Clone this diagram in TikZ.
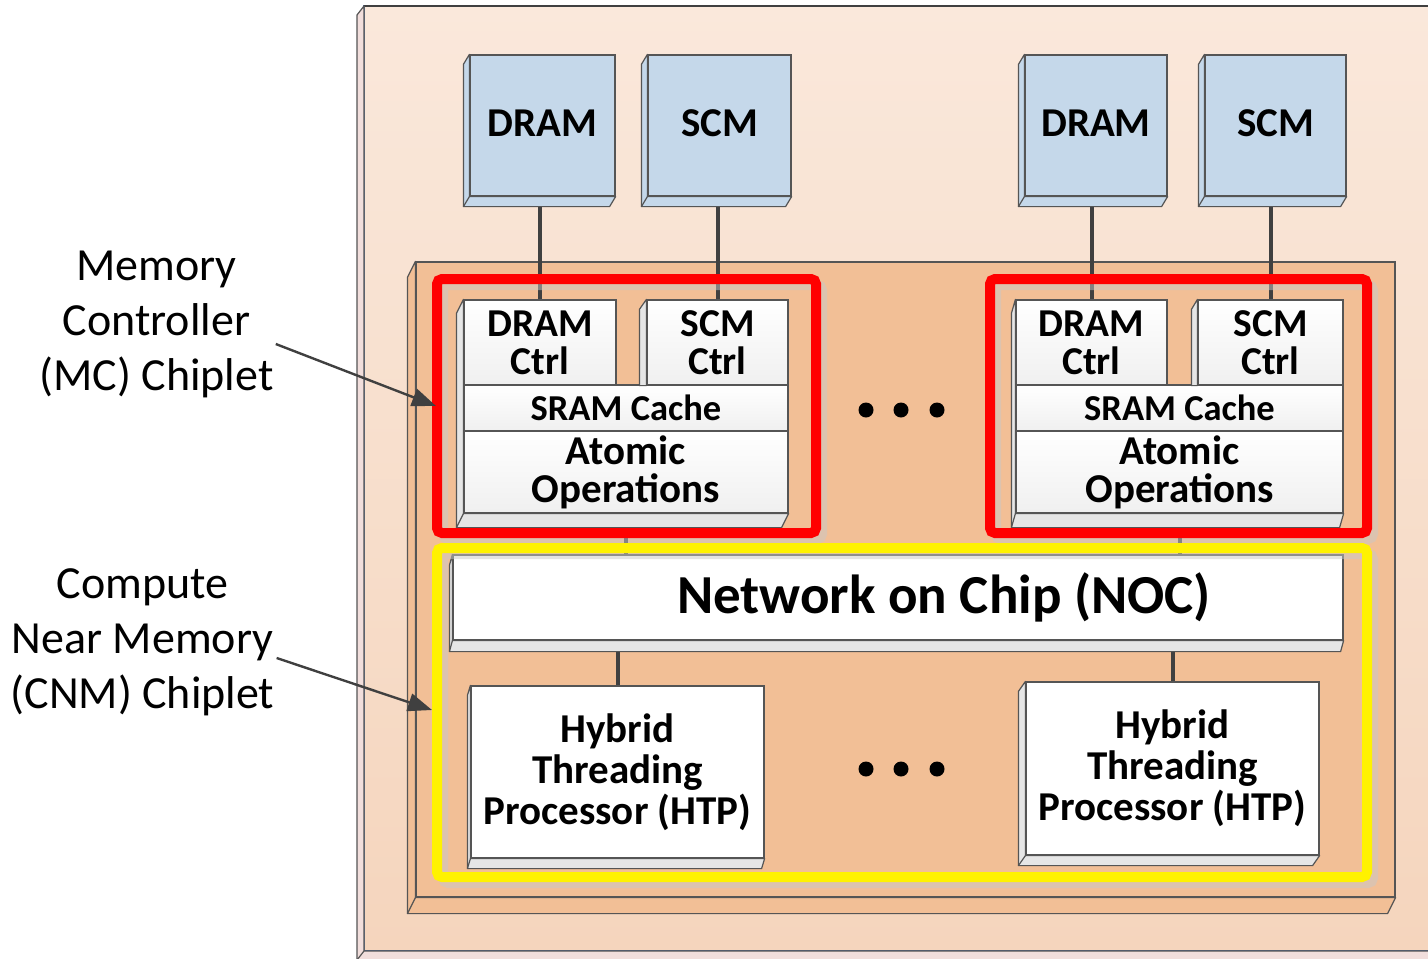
\documentclass[tikz,border=0pt]{standalone}
\usepackage{fontspec}
\setmainfont{Carlito}
\usetikzlibrary{calc,arrows.meta}

\definecolor{boardtop}{HTML}{FAE8DB}
\definecolor{boardbot}{HTML}{F5D5BD}
\definecolor{boardside}{HTML}{F1DEDC}
\definecolor{boardline}{HTML}{4E6A97}
\definecolor{chipfill}{HTML}{F2BF96}
\definecolor{memfill}{HTML}{C5D8EA}
\definecolor{edge}{HTML}{555555}
\definecolor{wire}{HTML}{404040}
\definecolor{bevside}{HTML}{E6E6E6}
\definecolor{shadegray}{HTML}{C8C8C8}

% side and bottom faces of a 3D box: corners nw, se, depth dx, dy
\newcommand{\bevel}[5][bevside]{%
  \filldraw[fill=#1,draw=edge,line width=1.2pt,line join=round]
    (#2) -- ++(-#4,#5) -- ($(#2 |- #3)+(-#4,#5)$) -- ($(#3)+(-#4,#5)$)
    -- (#3) -- (#2 |- #3) -- cycle;
  \draw[edge,line width=1.2pt] (#2 |- #3) -- ++(-#4,#5);}
\newcommand{\sidestrip}[3]{%
  \filldraw[fill=bevside,draw=edge,line width=1.2pt,line join=round]
    (#1.north west) -- ++(-#2,#3) -- ($(#1.south west)+(-#2,0)$) -- (#1.south west) -- cycle;}

\begin{document}
\begin{tikzpicture}[x=1pt,y=-1pt,
  box/.style={draw=edge,line width=1.2pt,inner sep=0pt,align=center},
  mem/.style={box,fill=memfill,text depth=5pt,font=\fontsize{41}{41}\selectfont\bfseries},
  cell/.style={box,top color=white,bottom color=gray!12,font=\fontsize{39.5}{38}\selectfont\bfseries},
  proc/.style={box,fill=white,font=\fontsize{41}{41}\selectfont\bfseries},
  lbl/.style={align=center,inner sep=0pt,font=\fontsize{46}{55}\selectfont},
  link/.style={wire,line width=4pt},
  frame/.style={line width=10pt,rounded corners=5pt},
  pointer/.style={wire,line width=2.4pt,-{Triangle[length=24pt,width=18pt]}}]
  \useasboundingbox (0,0) rectangle (1428,959);
  \clip (0,0) rectangle (1428,959);

  \coordinate (bnw) at (364,6);
  \coordinate (bse) at (1440,951);
  \filldraw[top color=boardtop,bottom color=boardbot,draw=boardline,line width=1.2pt] (bnw) rectangle (bse);
  \draw[wire,line width=1.2pt] (bnw) -- (bnw -| bse);
  \bevel[boardside]{bnw}{bse}{7}{9}

  \node[box,fill=chipfill,minimum width=979,minimum height=635] (chip) at (905.5,579.5) {};
  \bevel[chipfill]{chip.north west}{chip.south east}{8}{16}

  \node[mem,minimum width=145,minimum height=141] (dram1) at (542.5,125.5) {DRAM};
  \node[mem,minimum width=143,minimum height=141] (scm1) at (719.5,125.5) {SCM};
  \node[mem,minimum width=142,minimum height=141] (dram2) at (1096,125.5) {DRAM};
  \node[mem,minimum width=141,minimum height=141] (scm2) at (1275.5,125.5) {SCM};

  \node[cell,minimum width=152,minimum height=85] (dctl1) at (540,342.5) {DRAM\\Ctrl};
  \node[cell,minimum width=141,minimum height=85] (sctl1) at (717.5,342.5) {SCM\\Ctrl};
  \node[cell,minimum width=324,minimum height=46,font=\fontsize{36.5}{36}\selectfont\bfseries] (sram1) at (626,408) {SRAM Cache};
  \node[cell,minimum width=324,minimum height=82,font=\fontsize{41}{38}\selectfont\bfseries] (atom1) at (626,472) {Atomic\\Operations};

  \node[cell,minimum width=151,minimum height=85] (dctl2) at (1091.5,342.5) {DRAM\\Ctrl};
  \node[cell,minimum width=145,minimum height=85] (sctl2) at (1270.5,342.5) {SCM\\Ctrl};
  \node[cell,minimum width=327,minimum height=46,font=\fontsize{36.5}{36}\selectfont\bfseries] (sram2) at (1179.5,408) {SRAM Cache};
  \node[cell,minimum width=327,minimum height=82,font=\fontsize{41}{38}\selectfont\bfseries] (atom2) at (1179.5,472) {Atomic\\Operations};

  \node[box,fill=white,minimum width=890,minimum height=85,font=\fontsize{55}{55}\selectfont\bfseries] (noc) at (898,597.5) {\hspace*{92pt}Network on Chip (NOC)};

  \node[proc,minimum width=293,minimum height=172] (htp1) at (617.5,772) {Hybrid\\Threading\\Processor (HTP)};
  \node[proc,minimum width=293,minimum height=173] (htp2) at (1172.5,768.5) {Hybrid\\Threading\\Processor (HTP)};

  \draw[link] (dctl1.north) -- (dctl1.north |- dram1.south);
  \draw[link] (sctl1.north) -- (sctl1.north |- scm1.south);
  \draw[link] (dctl2.north) -- (dctl2.north |- dram2.south);
  \draw[link] (sctl2.north) -- (sctl2.north |- scm2.south);
  \draw[link] (atom1.south) -- (atom1.south |- noc.north);
  \draw[link] (atom2.south) -- (atom2.south |- noc.north);
  \draw[link] (htp1.north) -- (htp1.north |- noc.south);
  \draw[link] (htp2.north) -- (htp2.north |- noc.south);

  \bevel[memfill]{dram1.north west}{dram1.south east}{6}{10}
  \bevel[memfill]{scm1.north west}{scm1.south east}{6}{10}
  \bevel[memfill]{dram2.north west}{dram2.south east}{6}{10}
  \bevel[memfill]{scm2.north west}{scm2.south east}{6}{10}
  \bevel{dctl1.north west}{atom1.south east}{7}{14}
  \sidestrip{sctl1}{7}{10}
  \bevel{dctl2.north west}{atom2.south east}{4}{14}
  \sidestrip{sctl2}{6}{10}
  \bevel{noc.north west}{noc.south east}{3}{11}
  \bevel{htp1.north west}{htp1.south east}{3}{10}
  \bevel{htp2.north west}{htp2.south east}{7}{10}

  \draw[frame,shadegray,opacity=.5] (443,285) rectangle (822,539);
  \draw[frame,shadegray,opacity=.5] (996,285) rectangle (1373,539);
  \draw[frame,shadegray,opacity=.5] (443,554) rectangle (1373,883);
  \draw[frame,red] (437,279) rectangle (816,533);
  \draw[frame,red] (990,279) rectangle (1367,533);
  \draw[frame,yellow] (437,548) rectangle (1367,877);

  \foreach \dx in {866,901,937} {
    \fill (\dx,410) circle (7.5pt);
    \fill (\dx,769) circle (7.5pt);
  }

  \node[lbl] (mclbl) at (156.5,324) {Memory\\Controller\\(MC) Chiplet};
  \node[lbl] (cnmlbl) at (142.5,642) {Compute\\Near Memory\\(CNM) Chiplet};
  \coordinate (mcend) at (436,406);
  \coordinate (cnmend) at (432,710);
  \draw[pointer] ([xshift=2pt,yshift=-20pt]mclbl.east) -- (mcend);
  \draw[pointer] ([xshift=2pt,yshift=-16pt]cnmlbl.east) -- (cnmend);
\end{tikzpicture}
\end{document}
